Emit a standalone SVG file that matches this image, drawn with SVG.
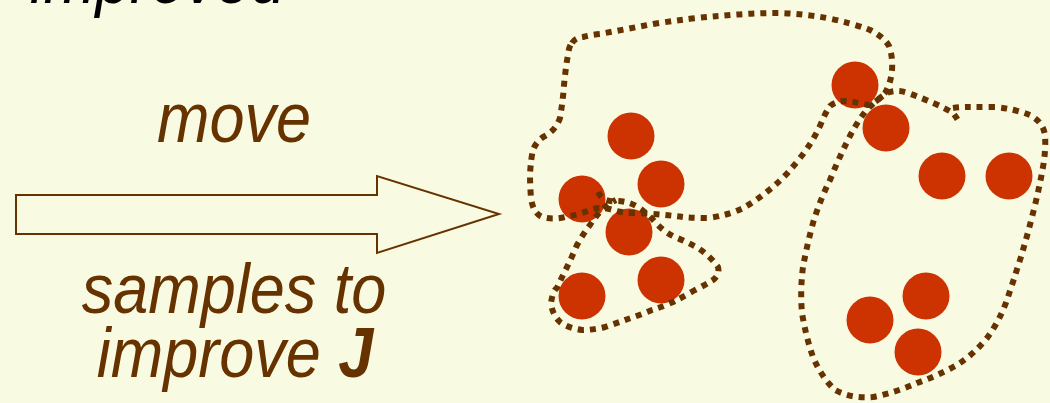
<svg xmlns="http://www.w3.org/2000/svg" width="1050" height="403" viewBox="0 0 1050 403">
<style>
.bg{fill:#F8FAE2}
.lbl{font-family:"Liberation Sans",Arial,sans-serif;font-style:italic;font-size:63px;fill:#663300;text-anchor:middle}
.title{font-family:"Liberation Sans",Arial,sans-serif;font-style:italic;font-size:62px;fill:#000000}
.pt{fill:#CC3300}
.grp{fill:none;stroke:#663300;stroke-width:6;stroke-dasharray:6 6;stroke-linejoin:round}
.arrow{fill:none;stroke:#663300;stroke-width:2}
</style>
<rect class="bg" x="0" y="0" width="1050" height="403"/>
<g id="title"><text class="title" transform="translate(30,3) scale(1,1.13)">improved</text></g>
<g id="labels">
<text class="lbl" transform="translate(234,142) scale(1,1.13)">move</text>
<text class="lbl" transform="translate(234,313) scale(1,1.13)">samples to</text>
<text class="lbl" transform="translate(235,377) scale(1,1.13)">improve <tspan font-weight="bold">J</tspan></text>
</g>
<g id="arrow"><polygon class="arrow" points="16,195 377,195 377,176 499,214 377,253 377,234 16,234"/></g>
<g id="samples">
<circle class="pt" cx="631" cy="136" r="23.5"/>
<circle class="pt" cx="661" cy="184" r="23.5"/>
<circle class="pt" cx="582" cy="199" r="23.5"/>
<circle class="pt" cx="629" cy="232" r="23.5"/>
<circle class="pt" cx="661" cy="280" r="23.5"/>
<circle class="pt" cx="582" cy="296" r="23.5"/>
<circle class="pt" cx="855" cy="85" r="23.5"/>
<circle class="pt" cx="886" cy="128" r="23.5"/>
<circle class="pt" cx="942" cy="176" r="23.5"/>
<circle class="pt" cx="1009" cy="176" r="23.5"/>
<circle class="pt" cx="926" cy="296" r="23.5"/>
<circle class="pt" cx="870" cy="320" r="23.5"/>
<circle class="pt" cx="918" cy="352" r="23.5"/>
</g>
<g id="clusters">
<path id="clusterA" class="grp" d="M572,43 Q575,38 583,37 Q590,35 600,34 L653,24 Q690,18 720,16 Q750,13 780,13 Q805,14 827,18 Q852,23 870,30 Q884,37 889,46 Q893,57 892,70 Q891,83 885,93 Q876,103 868,105 Q856,102 845,101 Q836,101 830,106 Q825,113 820,126 Q812,143 800,158 Q787,175 774,186 Q760,198 745,207 Q730,215 708,218 Q695,218 683,217 Q660,214 635,213 Q622,213 613,210 Q600,206 590,210 Q578,215 565,217 Q553,220 542,217 Q533,213 531,198 Q530,185 530,174 Q531,158 533,150 Q537,140 545,136 Q556,130 560,118 Q563,100 564,85 Q566,65 568,55 Q569,46 572,43"/>
<path id="clusterB" class="grp" d="M953,108 Q960,107 967,107 Q980,107 995,107 Q1015,109 1030,115 Q1043,122 1045,135 Q1046,150 1043,167 Q1039,190 1033,213 Q1027,237 1020,260 Q1013,282 1007,300 Q999,322 987,338 Q973,355 957,365 Q937,376 917,383 Q897,392 873,397 Q852,399 835,390 Q822,378 813,357 Q806,337 802,313 Q800,290 803,267 Q807,245 813,223 Q820,200 830,180 Q838,160 847,142 Q855,125 865,112 Q876,100 887,93 Q897,89 908,93 Q922,98 933,103 Q945,108 953,113 Q957,118 960,124"/>
<path id="clusterC" class="grp" d="M598,192 Q601,198 606,200 Q612,202 617,201 Q628,201 638,207 Q648,214 655,222 Q664,232 675,237 Q687,242 698,248 Q710,256 718,267 Q720,275 713,280 Q705,285 695,290 Q683,297 673,302 Q662,307 652,310 Q640,315 628,319 Q617,323 605,327 Q593,330 582,330 Q568,328 560,322 Q552,314 551,303 Q553,290 557,288 Q561,279 567,267 Q572,257 577,245 Q583,234 590,225 Q597,214 605,207 Q610,203 616,200"/>
</g>
</svg>
